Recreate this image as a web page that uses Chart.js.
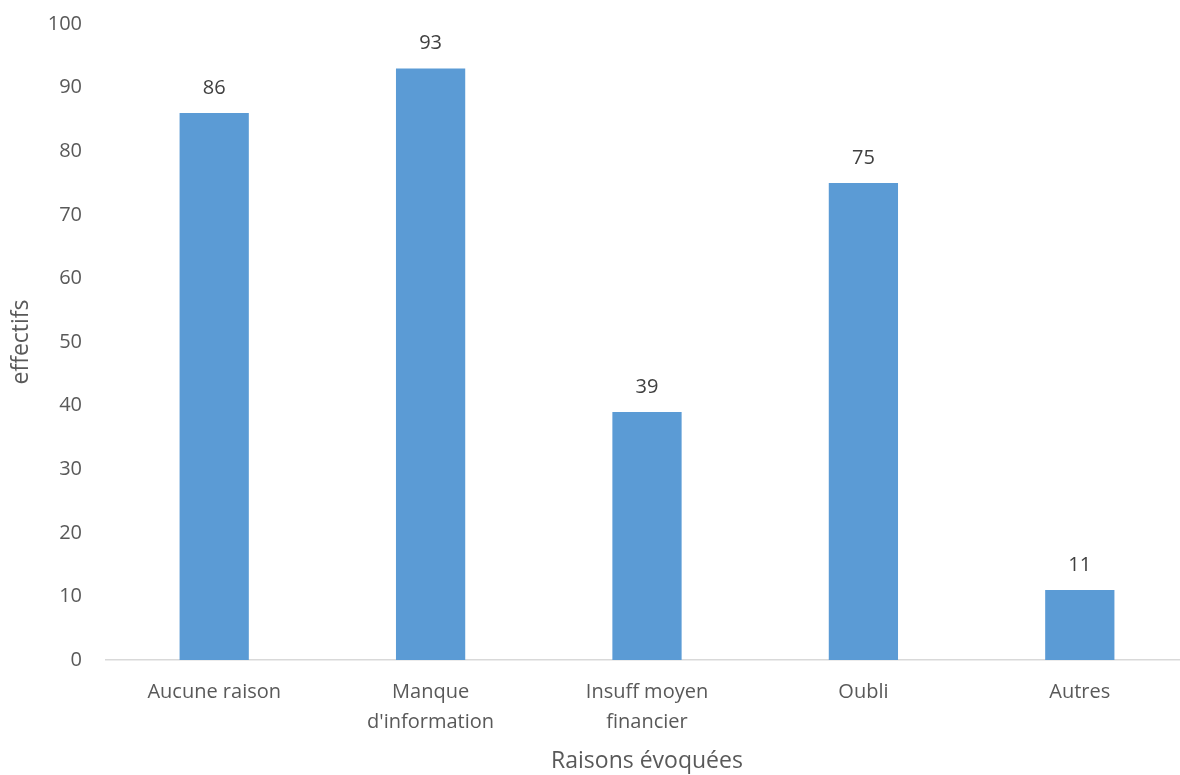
<!DOCTYPE html>
<html>
<head>
<meta charset="utf-8">
<title>Raisons évoquées</title>
<script src="https://cdn.jsdelivr.net/npm/chart.js"></script>
<style>
  html, body { margin: 0; padding: 0; background: #fff; overflow: hidden; }
  #wrap { width: 1188px; height: 775px; position: relative; }
</style>
</head>
<body>
<div id="wrap"><canvas id="chart"></canvas></div>
<script>
// data
const categories = [['Aucune raison'], ['Manque', "d'information"], ['Insuff moyen', 'financier'], ['Oubli'], ['Autres']];
const counts = [86, 93, 39, 75, 11];
const yTicks = [0, 10, 20, 30, 40, 50, 60, 70, 80, 90, 100];

const FONT = '"Open Sans", "Noto Sans", sans-serif';
const GREY = '#595959';

// simple value labels above each bar (no datalabels plugin offline)
const barValues = {
  id: 'barValues',
  afterDatasetsDraw(chart) {
    const ctx = chart.ctx;
    ctx.save();
    ctx.font = '20px ' + FONT;
    ctx.fillStyle = '#404040';
    ctx.textAlign = 'center';
    ctx.textBaseline = 'middle';
    chart.getDatasetMeta(0).data.forEach((bar, i) => {
      ctx.fillText(String(counts[i]), bar.x, bar.y - 25);
    });
    ctx.restore();
  }
};

new Chart(document.getElementById('chart'), {
  type: 'bar',
  data: {
    labels: categories,
    datasets: [{
      data: counts,
      backgroundColor: '#5B9BD5',
      borderWidth: 0,
      barPercentage: 0.32,
      categoryPercentage: 1
    }]
  },
  options: {
    responsive: true,
    maintainAspectRatio: false,
    animation: false,
    layout: { padding: { top: 24, right: 0, bottom: 0, left: 0 } },
    plugins: { legend: { display: false }, tooltip: { enabled: false } },
    scales: {
      x: {
        grid: { display: false, drawTicks: false },
        border: { color: '#d9d9d9', width: 1.5 },
        ticks: { color: GREY, font: { family: FONT, size: 20, lineHeight: 1.5 }, padding: 17, maxRotation: 0, autoSkip: false },
        title: { display: true, text: 'Raisons évoquées', color: GREY, font: { family: FONT, size: 23 }, padding: { top: 0, bottom: 0 } },
        afterFit(scale) { scale.height = 115; }
      },
      y: {
        min: 0, max: 100,
        afterBuildTicks(scale) { scale.ticks = yTicks.map(v => ({ value: v })); },
        grid: { display: false, drawTicks: false },
        border: { display: false },
        ticks: { color: GREY, font: { family: FONT, size: 20 }, padding: 24 },
        title: { display: true, text: 'effectifs', color: GREY, font: { family: FONT, size: 23 }, padding: { top: 8, bottom: 0 } },
        afterFit(scale) { scale.width = 106; scale.paddingTop = 0; scale.paddingBottom = 0; }
      }
    }
  },
  plugins: [barValues]
});
</script>
</body>
</html>
